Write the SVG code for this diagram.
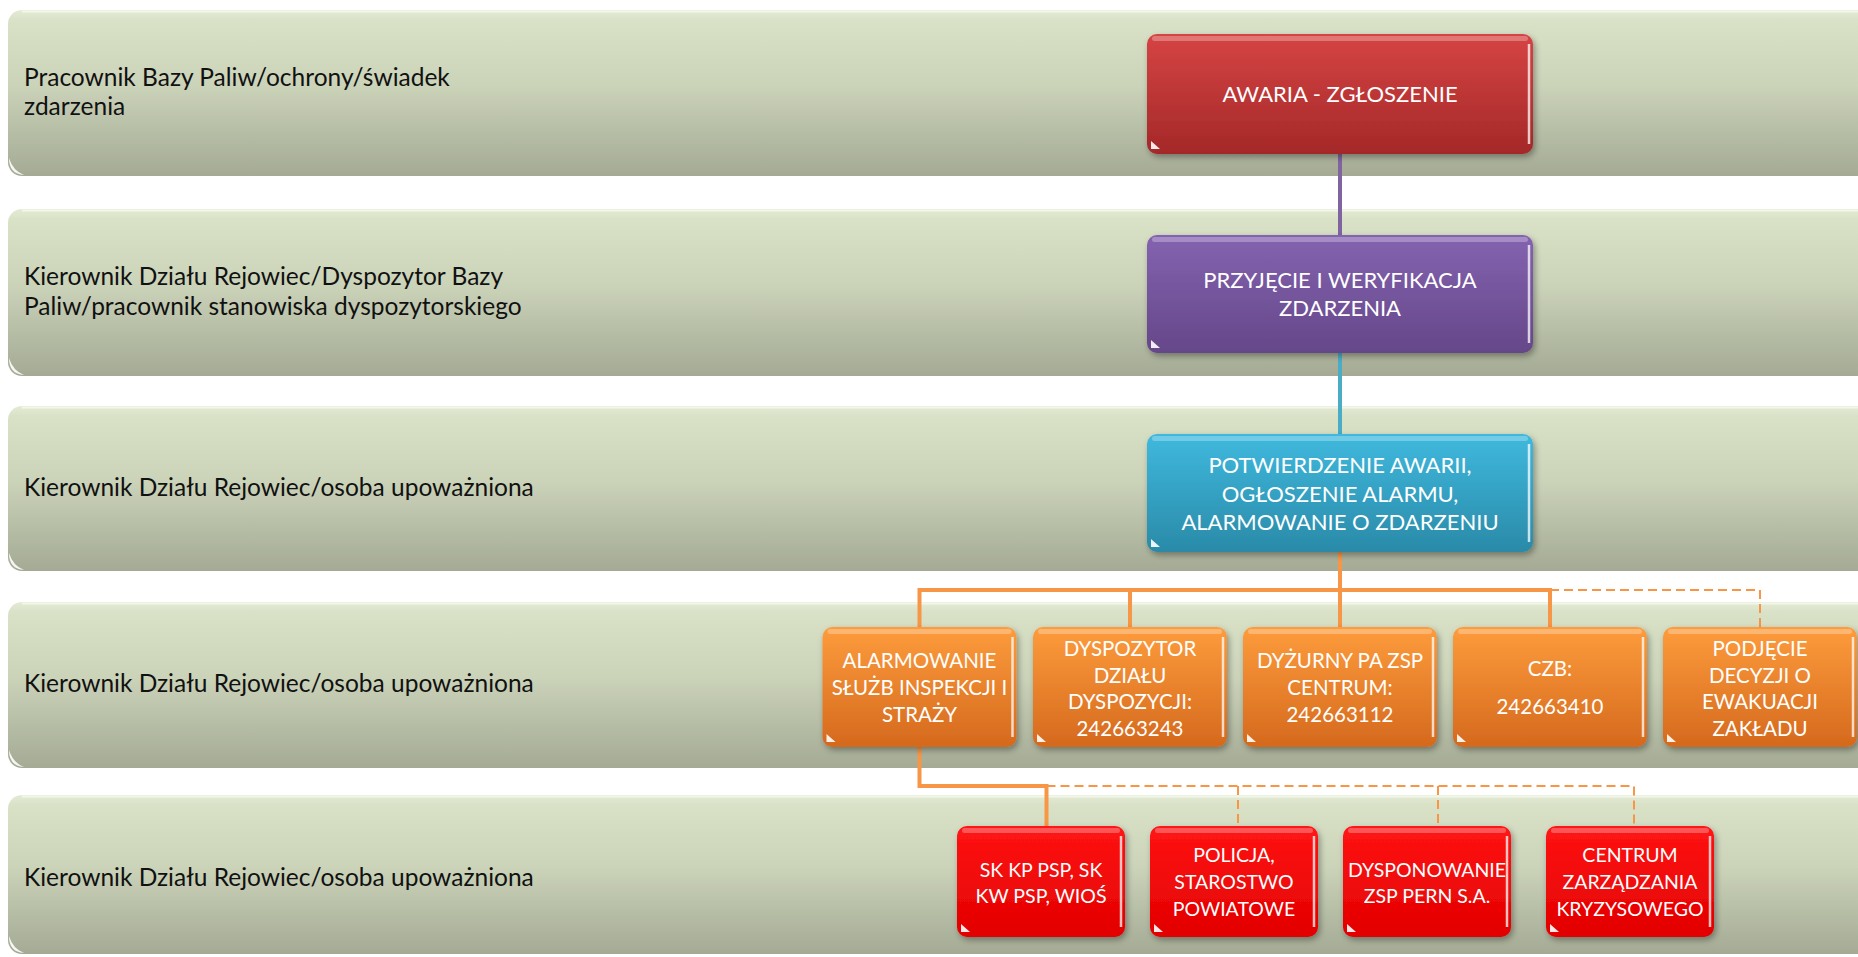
<svg xmlns="http://www.w3.org/2000/svg" width="1858" height="957" viewBox="0 0 1858 957">
<defs>
<style>
.band{fill:url(#gBand)}
.bhl{stroke:#f3f7ea;stroke-width:2;fill:none}
.notch{fill:#fff;opacity:.9}
.lbl{font-family:Lato,"Open Sans","Liberation Sans",sans-serif;font-size:24.5px;fill:#111}
.box{filter:url(#sh)}
.gl{fill:#fff;opacity:.28}
.rh{stroke:#fff;stroke-width:2.5;opacity:.75}
.tri{fill:#fff;opacity:.9}
.t1{font-family:Lato,"Open Sans","Liberation Sans",sans-serif;font-size:22px;fill:#fff;text-anchor:middle}
.t2{font-family:Lato,"Open Sans","Liberation Sans",sans-serif;font-size:20.5px;fill:#fff;text-anchor:middle}
.t3{font-family:Lato,"Open Sans","Liberation Sans",sans-serif;font-size:19.5px;fill:#fff;text-anchor:middle}
.cs{fill:none;stroke:#f79646;stroke-width:4}
.cd{fill:none;stroke:#f79646;stroke-width:2;stroke-dasharray:9 5}
</style>
<linearGradient id="gBand" x1="0" y1="0" x2="0" y2="1">
<stop offset="0" stop-color="#e4ebd6"/>
<stop offset="0.06" stop-color="#d9e2c7"/>
<stop offset="0.45" stop-color="#cbd3b9"/>
<stop offset="1" stop-color="#a4aa94"/>
</linearGradient>
<linearGradient id="gRed" x1="0" y1="0" x2="0" y2="1">
<stop offset="0" stop-color="#d64444"/>
<stop offset="1" stop-color="#a42828"/>
</linearGradient>
<linearGradient id="gPur" x1="0" y1="0" x2="0" y2="1">
<stop offset="0" stop-color="#8463b0"/>
<stop offset="1" stop-color="#654789"/>
</linearGradient>
<linearGradient id="gBlu" x1="0" y1="0" x2="0" y2="1">
<stop offset="0" stop-color="#3fb9de"/>
<stop offset="1" stop-color="#2a8aa8"/>
</linearGradient>
<linearGradient id="gOra" x1="0" y1="0" x2="0" y2="1">
<stop offset="0" stop-color="#fd9c3c"/>
<stop offset="1" stop-color="#d5691d"/>
</linearGradient>
<linearGradient id="gBr" x1="0" y1="0" x2="0" y2="1">
<stop offset="0" stop-color="#ff1414"/>
<stop offset="1" stop-color="#e20000"/>
</linearGradient>
<filter id="sh" x="-10%" y="-10%" width="125%" height="135%">
<feDropShadow dx="2" dy="3" stdDeviation="3" flood-color="#000" flood-opacity="0.35"/>
</filter>
</defs>

<g id="lane-1">
<rect class="band" x="8" y="10" width="1870" height="166" rx="14"/>
<line class="bhl" x1="22" y1="11.5" x2="1858" y2="11.5"/>
<path class="notch" d="M9 158 Q9 174 24 175 Q13 171 9 158 Z"/>
<text class="lbl" x="24" y="85.5">Pracownik Bazy Paliw/ochrony/świadek</text>
<text class="lbl" x="24" y="115">zdarzenia</text>
</g>
<g id="lane-2">
<rect class="band" x="8" y="209" width="1870" height="167" rx="14"/>
<line class="bhl" x1="22" y1="210.5" x2="1858" y2="210.5"/>
<path class="notch" d="M9 358 Q9 374 24 375 Q13 371 9 358 Z"/>
<text class="lbl" x="24" y="285">Kierownik Działu Rejowiec/Dyspozytor Bazy</text>
<text class="lbl" x="24" y="314.5">Paliw/pracownik stanowiska dyspozytorskiego</text>
</g>
<g id="lane-3">
<rect class="band" x="8" y="406" width="1870" height="165" rx="14"/>
<line class="bhl" x1="22" y1="407.5" x2="1858" y2="407.5"/>
<path class="notch" d="M9 553 Q9 569 24 570 Q13 566 9 553 Z"/>
<text class="lbl" x="24" y="496">Kierownik Działu Rejowiec/osoba upoważniona</text>
</g>
<g id="lane-4">
<rect class="band" x="8" y="602" width="1870" height="166" rx="14"/>
<line class="bhl" x1="22" y1="603.5" x2="1858" y2="603.5"/>
<path class="notch" d="M9 750 Q9 766 24 767 Q13 763 9 750 Z"/>
<text class="lbl" x="24" y="692">Kierownik Działu Rejowiec/osoba upoważniona</text>
</g>
<g id="lane-5">
<rect class="band" x="8" y="795" width="1870" height="159" rx="14"/>
<line class="bhl" x1="22" y1="796.5" x2="1858" y2="796.5"/>
<path class="notch" d="M9 936 Q9 952 24 953 Q13 949 9 936 Z"/>
<text class="lbl" x="24" y="886">Kierownik Działu Rejowiec/osoba upoważniona</text>
</g>

<g id="connectors">
<line x1="1340" y1="150" x2="1340" y2="238" stroke="#8064a2" stroke-width="4"/>
<line x1="1340" y1="350" x2="1340" y2="437" stroke="#4bacc6" stroke-width="4"/>
<path class="cs" d="M1340 550 V630"/>
<path class="cs" d="M919.5 630 V590 H1550 V630"/>
<path class="cs" d="M1130 590 V630"/>
<path class="cd" d="M1550 590 H1760 V628"/>
<path class="cs" d="M919.5 745 V786 H1046.5 V829"/>
<path class="cd" d="M1046.5 786 H1634 V827"/>
<path class="cd" d="M1238 786 V827"/>
<path class="cd" d="M1438 786 V827"/>
</g>

<g id="n-awaria">
<rect class="box" x="1147" y="34" width="386" height="120" rx="10" fill="url(#gRed)"/>
<rect class="gl" x="1152" y="36" width="376" height="5" rx="2.5"/>
<line class="rh" x1="1529" y1="44" x2="1529" y2="144"/>
<path class="tri" d="M1151 141 L1160 149 L1151 149 Z"/>
<text class="t1" x="1340" y="102">AWARIA - ZGŁOSZENIE</text>
</g>
<g id="n-przyjecie">
<rect class="box" x="1147" y="235" width="386" height="118" rx="10" fill="url(#gPur)"/>
<rect class="gl" x="1152" y="237" width="376" height="5" rx="2.5"/>
<line class="rh" x1="1529" y1="245" x2="1529" y2="343"/>
<path class="tri" d="M1151 340 L1160 348 L1151 348 Z"/>
<text class="t1" x="1340" y="288">PRZYJĘCIE I WERYFIKACJA</text>
<text class="t1" x="1340" y="316">ZDARZENIA</text>
</g>
<g id="n-potwierdzenie">
<rect class="box" x="1147" y="434" width="386" height="118" rx="10" fill="url(#gBlu)"/>
<rect class="gl" x="1152" y="436" width="376" height="5" rx="2.5"/>
<line class="rh" x1="1529" y1="444" x2="1529" y2="542"/>
<path class="tri" d="M1151 539 L1160 547 L1151 547 Z"/>
<text class="t1" x="1340" y="473">POTWIERDZENIE AWARII,</text>
<text class="t1" x="1340" y="502">OGŁOSZENIE ALARMU,</text>
<text class="t1" x="1340" y="530">ALARMOWANIE O ZDARZENIU</text>
</g>

<g id="n-alarmowanie">
<rect class="box" x="822.5" y="627" width="194" height="120" rx="10" fill="url(#gOra)"/>
<rect class="gl" x="827.5" y="629" width="184" height="5" rx="2.5"/>
<line class="rh" x1="1012.5" y1="637" x2="1012.5" y2="737"/>
<path class="tri" d="M826.5 734 L835.5 742 L826.5 742 Z"/>
<text class="t2" x="919.5" y="668">ALARMOWANIE</text>
<text class="t2" x="919.5" y="695">SŁUŻB INSPEKCJI I</text>
<text class="t2" x="919.5" y="722">STRAŻY</text>
</g>
<g id="n-dyspozytor">
<rect class="box" x="1033" y="627" width="194" height="120" rx="10" fill="url(#gOra)"/>
<rect class="gl" x="1038" y="629" width="184" height="5" rx="2.5"/>
<line class="rh" x1="1223" y1="637" x2="1223" y2="737"/>
<path class="tri" d="M1037 734 L1046 742 L1037 742 Z"/>
<text class="t2" x="1130" y="656">DYSPOZYTOR</text>
<text class="t2" x="1130" y="682.5">DZIAŁU</text>
<text class="t2" x="1130" y="709">DYSPOZYCJI:</text>
<text class="t2" x="1130" y="735.5">242663243</text>
</g>
<g id="n-dyzurny">
<rect class="box" x="1243" y="627" width="194" height="120" rx="10" fill="url(#gOra)"/>
<rect class="gl" x="1248" y="629" width="184" height="5" rx="2.5"/>
<line class="rh" x1="1433" y1="637" x2="1433" y2="737"/>
<path class="tri" d="M1247 734 L1256 742 L1247 742 Z"/>
<text class="t2" x="1340" y="668">DYŻURNY PA ZSP</text>
<text class="t2" x="1340" y="695">CENTRUM:</text>
<text class="t2" x="1340" y="722">242663112</text>
</g>
<g id="n-czb">
<rect class="box" x="1453" y="627" width="194" height="120" rx="10" fill="url(#gOra)"/>
<rect class="gl" x="1458" y="629" width="184" height="5" rx="2.5"/>
<line class="rh" x1="1643" y1="637" x2="1643" y2="737"/>
<path class="tri" d="M1457 734 L1466 742 L1457 742 Z"/>
<text class="t2" x="1550" y="676">CZB:</text>
<text class="t2" x="1550" y="714">242663410</text>
</g>
<g id="n-podjecie">
<rect class="box" x="1663" y="627" width="194" height="120" rx="10" fill="url(#gOra)"/>
<rect class="gl" x="1668" y="629" width="184" height="5" rx="2.5"/>
<line class="rh" x1="1853" y1="637" x2="1853" y2="737"/>
<path class="tri" d="M1667 734 L1676 742 L1667 742 Z"/>
<text class="t2" x="1760" y="656">PODJĘCIE</text>
<text class="t2" x="1760" y="682.5">DECYZJI O</text>
<text class="t2" x="1760" y="709">EWAKUACJI</text>
<text class="t2" x="1760" y="735.5">ZAKŁADU</text>
</g>

<g id="n-sk">
<rect class="box" x="957" y="826" width="168" height="111" rx="10" fill="url(#gBr)"/>
<rect class="gl" x="962" y="828" width="158" height="5" rx="2.5"/>
<line class="rh" x1="1121" y1="836" x2="1121" y2="927"/>
<path class="tri" d="M961 924 L970 932 L961 932 Z"/>
<text class="t3" x="1041" y="877">SK KP PSP, SK</text>
<text class="t3" x="1041" y="903">KW PSP, WIOŚ</text>
</g>
<g id="n-policja">
<rect class="box" x="1150" y="826" width="168" height="111" rx="10" fill="url(#gBr)"/>
<rect class="gl" x="1155" y="828" width="158" height="5" rx="2.5"/>
<line class="rh" x1="1314" y1="836" x2="1314" y2="927"/>
<path class="tri" d="M1154 924 L1163 932 L1154 932 Z"/>
<text class="t3" x="1234" y="862">POLICJA,</text>
<text class="t3" x="1234" y="889">STAROSTWO</text>
<text class="t3" x="1234" y="916">POWIATOWE</text>
</g>
<g id="n-dysponowanie">
<rect class="box" x="1343" y="826" width="168" height="111" rx="10" fill="url(#gBr)"/>
<rect class="gl" x="1348" y="828" width="158" height="5" rx="2.5"/>
<line class="rh" x1="1507" y1="836" x2="1507" y2="927"/>
<path class="tri" d="M1347 924 L1356 932 L1347 932 Z"/>
<text class="t3" x="1427" y="877">DYSPONOWANIE</text>
<text class="t3" x="1427" y="903">ZSP PERN S.A.</text>
</g>
<g id="n-centrum">
<rect class="box" x="1546" y="826" width="168" height="111" rx="10" fill="url(#gBr)"/>
<rect class="gl" x="1551" y="828" width="158" height="5" rx="2.5"/>
<line class="rh" x1="1710" y1="836" x2="1710" y2="927"/>
<path class="tri" d="M1550 924 L1559 932 L1550 932 Z"/>
<text class="t3" x="1630" y="862">CENTRUM</text>
<text class="t3" x="1630" y="889">ZARZĄDZANIA</text>
<text class="t3" x="1630" y="916">KRYZYSOWEGO</text>
</g>
</svg>
